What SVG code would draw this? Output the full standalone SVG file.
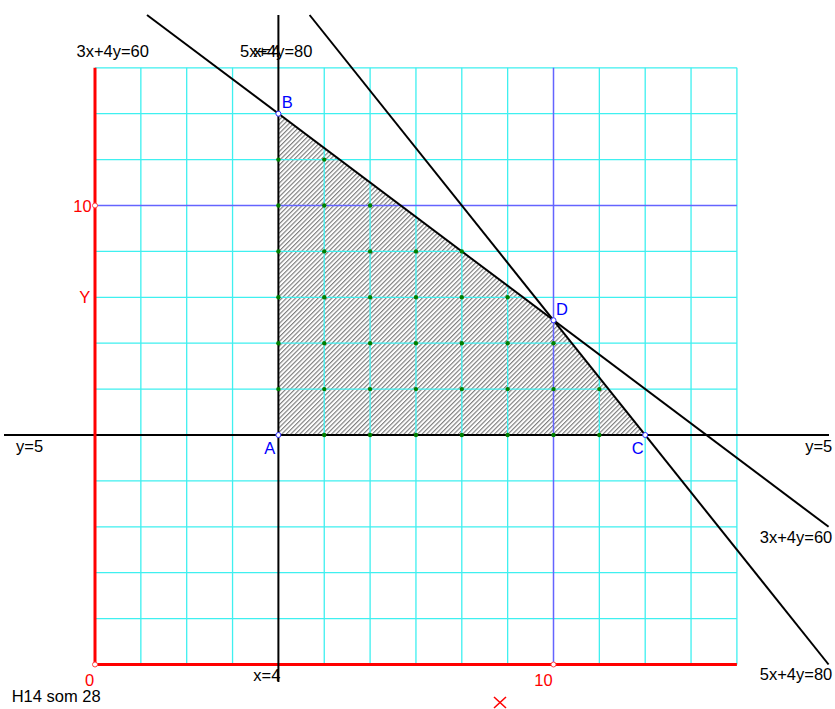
<svg xmlns="http://www.w3.org/2000/svg" width="835" height="709" viewBox="0 0 835 709">
<defs>
<pattern id="hatch" patternUnits="userSpaceOnUse" width="3.2" height="10" patternTransform="rotate(45)">
<line x1="0.6" y1="0" x2="0.6" y2="10" stroke="#6a6a6a" stroke-width="1"/>
</pattern>
</defs>
<style>
.grid{stroke:#3ff0f0;stroke-width:1.3;fill:none}
.blue{stroke:#6464ff;stroke-width:1.5;fill:none}
.blk{stroke:#000;stroke-width:2;fill:none}
.axis{stroke:#ff0000;stroke-width:3;fill:none}
.dot{fill:#008000}
.pt{fill:#fff;stroke:#3030ff;stroke-width:1}
.rpt{fill:#fff;stroke:#ff4040;stroke-width:1}
text{font-family:"Liberation Sans",Arial,sans-serif;font-size:16.5px}
.k{fill:#000}
.r{fill:#ff0000}
.b{fill:#0000ff}
</style>
<rect width="835" height="709" fill="#fff"/>
<g id="region">
<polygon points="278.4,435 278.4,113.7 553.5,320.25 645.2,435" fill="url(#hatch)"/>
</g>
<g id="grid">
<path class="grid" d="M140.85,67.8V664.5M186.7,67.8V664.5M232.55,67.8V664.5M324.25,67.8V664.5M370.1,67.8V664.5M415.95,67.8V664.5M461.8,67.8V664.5M507.65,67.8V664.5M599.35,67.8V664.5M645.2,67.8V664.5M691.05,67.8V664.5M736.9,67.8V664.5"/>
<path class="grid" d="M95,618.6H736.9M95,572.7H736.9M95,526.8H736.9M95,480.9H736.9M95,389.1H736.9M95,343.2H736.9M95,297.3H736.9M95,251.4H736.9M95,159.6H736.9M95,113.7H736.9M95,67.8H736.9"/>
</g>
<g id="connectors">
<line id="x10" class="blue" x1="553.5" y1="67.8" x2="553.5" y2="664.5"/>
<line id="y10" class="blue" x1="95" y1="205.5" x2="736.9" y2="205.5"/>
<line id="y5" class="blk" x1="4" y1="435" x2="829" y2="435"/>
<line id="l3x4y" class="blk" x1="147" y1="15" x2="828.6" y2="526.8"/>
<line id="l5x4y" class="blk" x1="309.6" y1="15" x2="828.6" y2="664.5"/>
<line id="yaxis" class="axis" x1="95" y1="67.8" x2="95" y2="664.5"/>
<line id="xaxis" class="axis" x1="95" y1="664.5" x2="736.9" y2="664.5"/>
<line id="x4" class="blk" x1="278.4" y1="15" x2="278.4" y2="682"/>
</g>
<g id="lattice">
<circle class="dot" cx="324.25" cy="435" r="2.2"/><circle class="dot" cx="370.1" cy="435" r="2.2"/><circle class="dot" cx="415.95" cy="435" r="2.2"/><circle class="dot" cx="461.8" cy="435" r="2.2"/><circle class="dot" cx="507.65" cy="435" r="2.2"/><circle class="dot" cx="553.5" cy="435" r="2.2"/><circle class="dot" cx="599.35" cy="435" r="2.2"/>
<circle class="dot" cx="278.4" cy="389.1" r="2.2"/><circle class="dot" cx="324.25" cy="389.1" r="2.2"/><circle class="dot" cx="370.1" cy="389.1" r="2.2"/><circle class="dot" cx="415.95" cy="389.1" r="2.2"/><circle class="dot" cx="461.8" cy="389.1" r="2.2"/><circle class="dot" cx="507.65" cy="389.1" r="2.2"/><circle class="dot" cx="553.5" cy="389.1" r="2.2"/><circle class="dot" cx="599.35" cy="389.1" r="2.2"/>
<circle class="dot" cx="278.4" cy="343.2" r="2.2"/><circle class="dot" cx="324.25" cy="343.2" r="2.2"/><circle class="dot" cx="370.1" cy="343.2" r="2.2"/><circle class="dot" cx="415.95" cy="343.2" r="2.2"/><circle class="dot" cx="461.8" cy="343.2" r="2.2"/><circle class="dot" cx="507.65" cy="343.2" r="2.2"/><circle class="dot" cx="553.5" cy="343.2" r="2.2"/>
<circle class="dot" cx="278.4" cy="297.3" r="2.2"/><circle class="dot" cx="324.25" cy="297.3" r="2.2"/><circle class="dot" cx="370.1" cy="297.3" r="2.2"/><circle class="dot" cx="415.95" cy="297.3" r="2.2"/><circle class="dot" cx="461.8" cy="297.3" r="2.2"/><circle class="dot" cx="507.65" cy="297.3" r="2.2"/>
<circle class="dot" cx="278.4" cy="251.4" r="2.2"/><circle class="dot" cx="324.25" cy="251.4" r="2.2"/><circle class="dot" cx="370.1" cy="251.4" r="2.2"/><circle class="dot" cx="415.95" cy="251.4" r="2.2"/><circle class="dot" cx="461.8" cy="251.4" r="2.2"/>
<circle class="dot" cx="278.4" cy="205.5" r="2.2"/><circle class="dot" cx="324.25" cy="205.5" r="2.2"/><circle class="dot" cx="370.1" cy="205.5" r="2.2"/>
<circle class="dot" cx="278.4" cy="159.6" r="2.2"/><circle class="dot" cx="324.25" cy="159.6" r="2.2"/>
</g>
<g id="A"><circle class="pt" cx="278.4" cy="435" r="2.5"/><text class="b" x="264.3" y="454.3">A</text></g>
<g id="B"><circle class="pt" cx="278.4" cy="113.7" r="2.5"/><text class="b" x="281.7" y="107.7">B</text></g>
<g id="C"><circle class="pt" cx="645.2" cy="435" r="2.5"/><text class="b" x="631.7" y="454.3">C</text></g>
<g id="D"><circle class="pt" cx="553.5" cy="320.25" r="2.5"/><text class="b" x="556" y="315">D</text></g>
<g id="axes-labels">
<circle class="rpt" cx="95" cy="664.5" r="2.5"/>
<circle class="rpt" cx="553.5" cy="664.5" r="2.5"/>
<circle class="rpt" cx="95" cy="205.5" r="2.5"/>
<text class="r" x="85" y="685.7">0</text>
<text class="r" x="534.3" y="685.7">10</text>
<text class="r" x="73.3" y="211.7">10</text>
<text class="r" x="79.3" y="302.7">Y</text>
<path d="M494,697L506,708M506,697L494,708" stroke="#ff0000" stroke-width="1.6" fill="none"/>
</g>
<g id="labels">
<text class="k" x="76.5" y="56.7">3x+4y=60</text>
<text class="k" x="240" y="56.7">5x+4y=80</text>
<text class="k" x="253.3" y="56.7">x=4</text>
<text class="k" x="253.3" y="681">x=4</text>
<text class="k" x="16" y="452">y=5</text>
<text class="k" x="832.3" y="452.3" text-anchor="end">y=5</text>
<text class="k" x="832.3" y="543.3" text-anchor="end">3x+4y=60</text>
<text class="k" x="832.3" y="680" text-anchor="end">5x+4y=80</text>
<text class="k" x="11.7" y="701.7">H14 som 28</text>
</g>
</svg>
